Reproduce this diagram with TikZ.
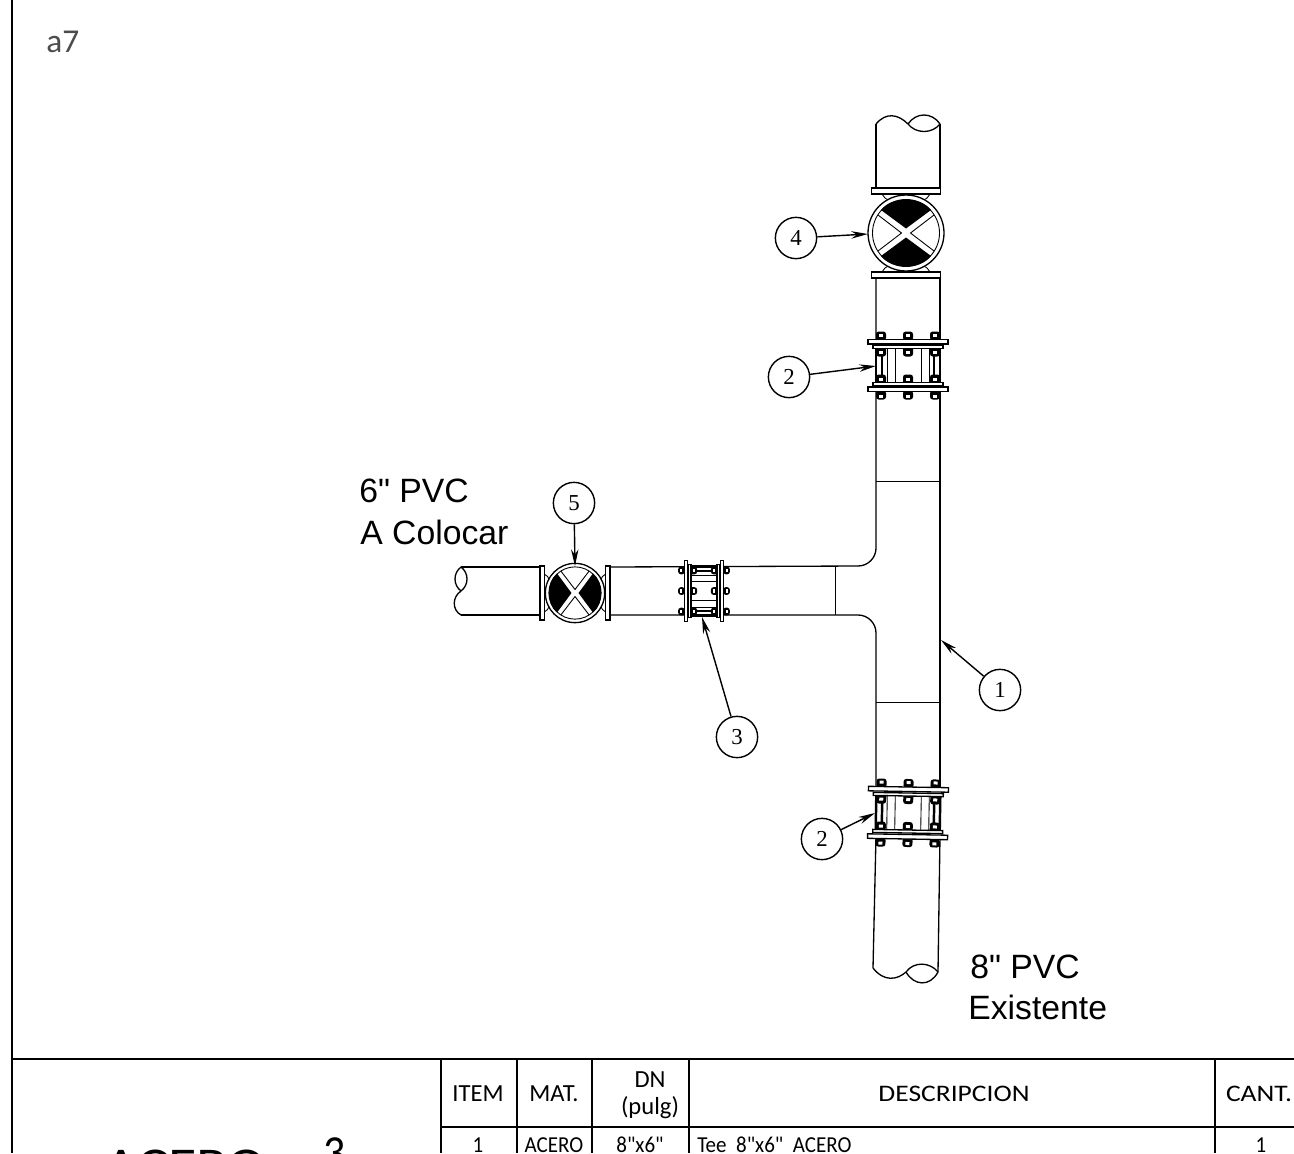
\documentclass[tikz,border=0pt]{standalone}
\usepackage{fontspec}
\usetikzlibrary{arrows.meta}
\newfontfamily\cotafont{Liberation Sans}
\newfontfamily\cadfont[FakeStretch=1.0]{Carlito}
\newfontfamily\cadancho[FakeStretch=1.16]{Carlito}
\newfontfamily\cadfino[FakeStretch=0.92]{Carlito}
\newfontfamily\numfont{Liberation Serif}
\tikzset{
  tubo/.style={line width=0.75pt},
  fino/.style={line width=0.5pt},
  marco/.style={line width=1.2pt},
  celda/.style={line width=0.9pt},
  globo/.style={circle, draw, line width=0.8pt, fill=white, minimum size=23.5pt, inner sep=0pt, font=\numfont\fontsize{13}{13}\selectfont},
  flecha/.style={line width=0.8pt, -{Stealth[length=9.5pt,width=4.2pt]}},
  cota/.style={anchor=base west, inner sep=0pt, font=\cotafont\fontsize{19.2}{20}\selectfont},
  cad/.style={font=\cadfont\fontsize{14}{14}\selectfont, inner sep=0pt},
  cadfila/.style={font=\cadfino\fontsize{13}{13}\selectfont, inner sep=0pt, anchor=base}
}
% valvula: #1 centro, #2 giro, #3 escala
\newcommand{\valvula}[3]{
\begin{scope}[shift={#1}, rotate=#2, scale=#3]
\draw[tubo, fill=white] (-34.5,-45) rectangle (34.5,-39);
\draw[tubo, fill=white] (-34.5,39) rectangle (34.5,45);
\draw[fino] (-24,-39) .. controls (-22,-36) and (-21,-34) .. (-17,-33);
\draw[fino] (24,-39) .. controls (22,-36) and (21,-34) .. (17,-33);
\draw[fino] (-24,39) .. controls (-22,36) and (-21,34) .. (-17,33);
\draw[fino] (24,39) .. controls (22,36) and (21,34) .. (17,33);
\draw[tubo, fill=white] (0,0) circle (38);
\draw[fino] (0,0) circle (33.5);
\fill (0,-4.5) -- (-25,-23) .. controls (-14,-37) and (14,-37) .. (25,-23) -- cycle;
\fill (0,4.5) -- (-25,23) .. controls (-14,37) and (14,37) .. (25,23) -- cycle;
\draw[fino] (-28,-18) -- (-4.5,0) -- (-28,18);
\draw[fino] (28,-18) -- (4.5,0) -- (28,18);
\end{scope}
}
% acople: #1 centro, #2 giro, #3 escala
\newcommand{\acople}[3]{
\begin{scope}[shift={#1}, rotate=#2, scale=#3]
\fill[white] (-32,-17) rectangle (32,17);
\foreach \xa in {-21,-13,13,21} \draw[fino] (\xa,-17) -- (\xa,17);
\foreach \xa in {-32,-26,26,32} \draw[line width=1.4pt] (\xa,-18) -- (\xa,18);
\foreach \xa in {-27,0,27} {
  \fill[rounded corners=1.5pt] (\xa-5,-34) rectangle (\xa+5,-25);
  \fill[rounded corners=1.5pt] (\xa-5,25) rectangle (\xa+5,34);
  \fill[white] (\xa-2,-32) rectangle (\xa+2,-29);
  \fill[white] (\xa-2,29) rectangle (\xa+2,32);
  \fill[rounded corners=1.5pt] (\xa-5,-19) rectangle (\xa+5,-9);
  \fill[rounded corners=1.5pt] (\xa-5,9) rectangle (\xa+5,19);
  \fill[white] (\xa-2,-15) rectangle (\xa+2,-12);
  \fill[white] (\xa-2,12) rectangle (\xa+2,15);
}
\draw[tubo, fill=white] (-40,-26) rectangle (40,-21.5);
\draw[tubo, fill=white] (-40,21.5) rectangle (40,26);
\draw[tubo, fill=white] (-35,-20) rectangle (35,-17);
\draw[tubo, fill=white] (-35,17) rectangle (35,20);
\end{scope}
}
\begin{document}
\begin{tikzpicture}[x=0.02cm, y=-0.02cm]
\path[use as bounding box, clip] (0,0) rectangle (1294,1153);
\fill[white] (0,0) rectangle (1294,1153);

% Marco
\draw[marco] (12,0) -- (12,1153);
\draw[marco] (12,1059) -- (1294,1059);
\draw[celda] (441,1127) -- (1294,1127);
\foreach \xb in {441,517,592,689,1215} \draw[celda] (\xb,1059) -- (\xb,1153);
\node[cad, font=\cadfont\fontsize{19}{19}\selectfont, text=black!70, anchor=base west] (marca) at (46,52) {a7};

% Tuberia vertical
\draw[tubo] (876,124) -- (876,190);
\draw[tubo] (940,124) -- (940,190);
\draw[tubo] (876,124) .. controls (886,112) and (898,114) .. (908,124);
\draw[tubo] (908,124) .. controls (916,112) and (932,112) .. (940,124);
\draw[tubo] (908,124) .. controls (916,134) and (932,134) .. (940,124);
\draw[tubo] (876,275) -- (876,548) arc[start angle=0, end angle=90, radius=18] -- (610,567);
\draw[tubo] (876,789) -- (876,633) arc[start angle=0, end angle=-90, radius=18] -- (610,615);
\draw[tubo] (940,275) -- (940,789);
\draw[fino] (876,481) -- (940,481);
\draw[fino] (876,702) -- (940,702);
\draw[fino] (835,567) -- (835,615);
\draw[tubo] (876,835) -- (873,968);
\draw[tubo] (940,835) -- (938,972);
\draw[tubo] (873,968) .. controls (884,982) and (897,980) .. (906,972);
\draw[tubo] (906,972) .. controls (914,961) and (930,962) .. (938,972);
\draw[tubo] (906,972) .. controls (914,986) and (930,987) .. (938,972);

% Tuberia horizontal
\draw[tubo] (461,567) -- (542,567);
\draw[tubo] (461,615) -- (542,615);
\draw[tubo] (461,567) .. controls (453,573) and (453,585) .. (461,591);
\draw[tubo] (461,567) .. controls (469,573) and (469,585) .. (461,591);
\draw[tubo] (461,591) .. controls (452,597) and (452,610) .. (461,615);

% Valvulas y acoples
\valvula{(906,233)}{0}{1}
\valvula{(575,593)}{90}{0.78}
\acople{(908,365.5)}{0}{1}
\acople{(908,813)}{-1}{1}
\acople{(704,591)}{90}{0.76}

% Textos
\node[cota] (pvc6) at (359,502) {6" PVC};
\node[cota] (colocar) at (360,544) {A Colocar};
\node[cota] (pvc8) at (970,978) {8" PVC};
\node[cota] (existente) at (968,1019) {Existente};

% Globos
\node[globo] (g4) at (796,238) {4};
\node[globo] (g2a) at (789,377) {2};
\node[globo] (g5) at (574,503) {5};
\node[globo] (g3) at (737,737) {3};
\node[globo] (g1) at (1000,690) {1};
\node[globo] (g2b) at (822,839) {2};
\coordinate (p4) at (868,234);
\coordinate (p2a) at (876,366);
\coordinate (p5) at (575,566);
\coordinate (p3) at (702,617);
\coordinate (p1) at (941,640);
\coordinate (p2b) at (875,813);
\draw[flecha] (g4) -- (p4);
\draw[flecha] (g2a) -- (p2a);
\draw[flecha] (g5) -- (p5);
\draw[flecha] (g3) -- (p3);
\draw[flecha] (g1) -- (p1);
\draw[flecha] (g2b) -- (p2b);

% Tabla
\node[cad] (item) at (478,1094) {ITEM};
\node[cad] (mat) at (554,1094) {MAT.};
\node[cad] (dn) at (650,1080) {DN};
\node[cad] (pulg) at (650,1108) {(pulg)};
\node[cad, font=\cadancho\fontsize{13.5}{14}\selectfont] (desc) at (954,1094) {DESCRIPCION};
\node[cad, font=\cadancho\fontsize{13.5}{14}\selectfont] (cant) at (1259,1094) {CANT.};
\node[cadfila] (f1) at (478,1152) {1};
\node[cadfila] (f2) at (554,1152) {ACERO};
\node[cadfila] (f3) at (640,1152) {8"x6"};
\node[cadfila, anchor=base west] (f4) at (697,1152) {Tee\ \ 8"x6"\ \ ACERO};
\node[cadfila] (f5) at (1261,1152) {1};

% Titulo
\node[anchor=base west, inner sep=0pt, font=\cadancho\fontsize{28.5}{29}\selectfont] (acero) at (104,1182) {ACERO};
\node[anchor=base west, inner sep=0pt, font=\cadfino\fontsize{27}{27}\selectfont] (tres) at (323,1168) {3};
\end{tikzpicture}
\end{document}
